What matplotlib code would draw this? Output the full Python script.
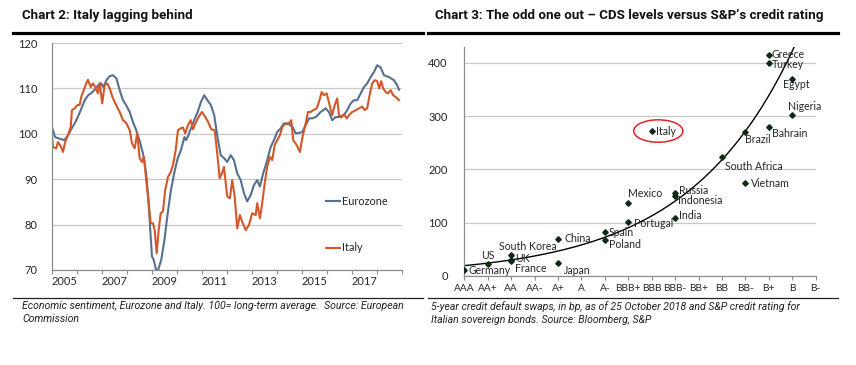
import numpy as np
import matplotlib
matplotlib.use('Agg')
import matplotlib.pyplot as plt
from matplotlib.patches import Ellipse
from matplotlib.lines import Line2D

# ---- Chart 2 data: economic sentiment ----
eur_t = [2005.00, 2005.13, 2005.27, 2005.40, 2005.50, 2005.66, 2005.80, 2005.93, 2006.06, 2006.19,
         2006.33, 2006.46, 2006.59, 2006.72, 2006.86, 2006.96, 2007.06, 2007.19, 2007.32, 2007.45,
         2007.59, 2007.72, 2007.85, 2007.98, 2008.12, 2008.25, 2008.38, 2008.51, 2008.65, 2008.78,
         2008.87, 2008.95, 2009.01, 2009.08, 2009.18, 2009.24, 2009.38, 2009.51, 2009.64, 2009.77,
         2009.91, 2010.04, 2010.17, 2010.31, 2010.37, 2010.44, 2010.57, 2010.70, 2010.84, 2010.97,
         2011.10, 2011.23, 2011.37, 2011.50, 2011.63, 2011.76, 2011.90, 2012.02, 2012.16, 2012.29,
         2012.42, 2012.56, 2012.69, 2012.82, 2012.96, 2013.09, 2013.22, 2013.33, 2013.46, 2013.60,
         2013.76, 2013.89, 2014.02, 2014.16, 2014.29, 2014.49, 2014.62, 2014.76, 2014.89, 2015.02,
         2015.16, 2015.29, 2015.42, 2015.56, 2015.76, 2015.96, 2016.09, 2016.22, 2016.36, 2016.49,
         2016.69, 2016.82, 2016.96, 2017.09, 2017.22, 2017.36, 2017.49, 2017.62, 2017.76, 2017.89,
         2018.02, 2018.16, 2018.29, 2018.49, 2018.69, 2018.82, 2018.89]
eur_v = [101.7, 99.3, 99.0, 98.8, 98.6, 99.7, 101.2, 102.4, 103.9, 105.6,
         107.5, 108.5, 109.0, 109.7, 110.7, 111.2, 110.3, 111.8, 112.7, 112.9,
         112.2, 109.6, 107.4, 106.3, 104.8, 102.6, 100.8, 98.6, 95.7, 91.3,
         85.4, 78.1, 73.0, 72.2, 70.0, 69.7, 72.2, 76.6, 82.5, 87.6,
         91.6, 94.6, 96.4, 99.3, 98.6, 99.3, 101.2, 103.0, 104.8, 107.0,
         108.5, 107.4, 106.3, 104.1, 99.3, 95.3, 94.6, 93.8, 95.3, 94.2,
         91.3, 89.8, 86.9, 85.1, 86.5, 88.7, 89.8, 88.4, 91.3, 93.8,
         97.1, 98.6, 100.4, 101.2, 102.3, 102.1, 101.6, 100.1, 100.2, 100.4,
         101.9, 103.4, 103.4, 103.7, 104.8, 105.6, 104.8, 103.0, 103.7, 103.7,
         104.1, 105.2, 106.7, 107.4, 107.4, 108.9, 110.3, 111.1, 112.5, 113.6,
         115.1, 114.6, 112.9, 112.5, 111.8, 110.7, 109.7]

ita_t = [2005.00, 2005.05, 2005.18, 2005.25, 2005.36, 2005.45, 2005.54, 2005.65, 2005.76, 2005.81,
         2005.92, 2006.02, 2006.12, 2006.18, 2006.29, 2006.38, 2006.45, 2006.56, 2006.65, 2006.74,
         2006.85, 2006.92, 2007.02, 2007.12, 2007.22, 2007.32, 2007.45, 2007.58, 2007.72, 2007.85,
         2007.98, 2008.12, 2008.21, 2008.32, 2008.42, 2008.52, 2008.61, 2008.69, 2008.78, 2008.88,
         2008.96, 2009.05, 2009.12, 2009.20, 2009.28, 2009.36, 2009.45, 2009.54, 2009.65, 2009.76,
         2009.85, 2009.96, 2010.05, 2010.16, 2010.25, 2010.34, 2010.45, 2010.56, 2010.65, 2010.78,
         2010.92, 2011.01, 2011.12, 2011.25, 2011.38, 2011.52, 2011.62, 2011.72, 2011.81, 2011.89,
         2012.02, 2012.13, 2012.22, 2012.32, 2012.42, 2012.53, 2012.62, 2012.76, 2012.89, 2013.02,
         2013.16, 2013.22, 2013.33, 2013.42, 2013.52, 2013.62, 2013.73, 2013.82, 2013.92, 2014.02,
         2014.13, 2014.22, 2014.36, 2014.49, 2014.58, 2014.66, 2014.80, 2014.93, 2015.02, 2015.16,
         2015.25, 2015.36, 2015.46, 2015.60, 2015.69, 2015.80, 2015.89, 2016.00, 2016.13, 2016.22,
         2016.32, 2016.42, 2016.49, 2016.58, 2016.69, 2016.80, 2016.89, 2017.02, 2017.16, 2017.29,
         2017.42, 2017.52, 2017.62, 2017.73, 2017.82, 2017.92, 2018.02, 2018.10, 2018.18, 2018.26,
         2018.36, 2018.45, 2018.56, 2018.66, 2018.76, 2018.89]
ita_v = [100.4, 97.1, 96.8, 98.2, 97.3, 96.0, 98.2, 99.7, 101.5, 105.2,
         105.6, 106.3, 106.4, 108.1, 109.7, 111.1, 111.9, 110.3, 111.1, 110.3,
         108.9, 111.1, 106.7, 110.7, 111.1, 110.0, 107.8, 106.3, 104.8, 103.0,
         102.4, 100.8, 97.9, 96.8, 100.1, 94.6, 93.8, 94.9, 89.8, 84.7,
         80.3, 80.3, 78.8, 73.7, 78.8, 82.5, 82.9, 87.6, 90.5, 91.6,
         93.1, 96.4, 100.8, 101.2, 101.4, 100.1, 101.9, 103.0, 101.0, 102.7,
         104.1, 104.8, 103.9, 102.7, 101.0, 100.8, 95.7, 90.2, 91.3, 92.7,
         86.2, 85.8, 89.8, 86.2, 79.2, 82.1, 80.6, 78.8, 79.9, 82.5,
         82.1, 84.7, 81.4, 84.7, 89.1, 92.7, 94.9, 94.2, 97.5, 98.6,
         99.7, 101.5, 102.3, 102.3, 103.0, 98.6, 97.5, 96.0, 99.0, 102.3,
         104.8, 104.8, 105.2, 105.6, 107.0, 109.2, 108.5, 108.9, 106.0, 104.1,
         106.3, 107.8, 104.1, 103.6, 104.3, 103.4, 104.1, 104.8, 105.2, 105.6,
         106.0, 105.2, 105.6, 108.9, 111.1, 111.8, 111.6, 110.0, 111.6, 110.0,
         109.2, 108.9, 109.6, 108.5, 108.1, 107.4]

# ---- Chart 3 data: CDS level (bp) vs S&P rating ----
ratings = ['AAA', 'AA+', 'AA', 'AA-', 'A+', 'A', 'A-', 'BBB+', 'BBB', 'BBB-',
           'BB+', 'BB', 'BB-', 'B+', 'B', 'B-']
countries = ['Germany', 'US', 'South Korea', 'UK', 'France', 'China', 'Japan', 'Spain', 'Poland',
             'Mexico', 'Portugal', 'Italy', 'Russia', 'Indonesia', 'India', 'South Africa',
             'Vietnam', 'Brazil', 'Greece', 'Turkey', 'Bahrain', 'Egypt', 'Nigeria']
country_rating = ['AAA', 'AA+', 'AA', 'AA', 'AA', 'A+', 'A+', 'A-', 'A-',
                  'BBB+', 'BBB+', 'BBB', 'BBB-', 'BBB-', 'BBB-', 'BB',
                  'BB-', 'BB-', 'B+', 'B+', 'B+', 'B', 'B']
cds = [12, 22, 40, 30, 28, 70, 24, 82, 67,
       137, 101, 272, 155, 150, 108, 224,
       174, 271, 415, 400, 280, 369, 302]

# label offsets in points (dx, dy) and alignment
label_pos = {
    'Germany': (3, -1, 'left', 'center'), 'US': (0, 2, 'center', 'bottom'),
    'South Korea': (12, 2, 'center', 'bottom'), 'UK': (3, 1, 'left', 'center'),
    'France': (3, -5, 'left', 'center'), 'China': (5, 0, 'left', 'center'),
    'Japan': (4, -5, 'left', 'center'), 'Spain': (3, 0, 'left', 'center'),
    'Poland': (3, -3, 'left', 'center'), 'Mexico': (0, 3, 'left', 'bottom'),
    'Portugal': (4, -1, 'left', 'center'), 'Italy': (3, 0, 'left', 'center'),
    'Russia': (3, 2, 'left', 'center'), 'Indonesia': (2, -3.5, 'left', 'center'),
    'India': (3, 2, 'left', 'center'), 'South Africa': (2, -7, 'left', 'center'),
    'Vietnam': (4, 0, 'left', 'center'), 'Brazil': (0, -6, 'left', 'center'),
    'Greece': (2, 0, 'left', 'center'), 'Turkey': (2, -1, 'left', 'center'),
    'Bahrain': (2, -5, 'left', 'center'), 'Egypt': (-7, -4, 'left', 'center'),
    'Nigeria': (-3, 2, 'left', 'bottom'),
}

TXT = '#262626'
GRID = '#c8c8c8'
SPINE = '#8c8c8c'
tick_font = 'Lato'

fig = plt.figure(figsize=(8.56, 3.65), dpi=100)

# titles and rules
fig.text(22 / 856, 1 - 15 / 365, 'Chart 2: Italy lagging behind', fontsize=9.6,
         fontweight='bold', family='Roboto', va='center', ha='left', color='#111111')
fig.text(435 / 856, 1 - 15 / 365, 'Chart 3: The odd one out \u2013 CDS levels versus S&P\u2019s credit rating',
         fontsize=9.6, fontweight='bold', family='Roboto', va='center', ha='left', color='#111111')
fig.add_artist(Line2D([13 / 856, 423 / 856], [1 - 32.5 / 365] * 2, color='black', lw=2.3))
fig.add_artist(Line2D([428 / 856, 838 / 856], [1 - 32.5 / 365] * 2, color='black', lw=2.3))
fig.add_artist(Line2D([13 / 856, 423 / 856], [1 - 297.5 / 365] * 2, color='#222222', lw=0.9))
fig.add_artist(Line2D([428 / 856, 838 / 856], [1 - 297.5 / 365] * 2, color='#222222', lw=0.9))

cap_font = 'Roboto'
fig.text(22 / 856, 1 - 301 / 365,
         'Economic sentiment, Eurozone and Italy. 100= long-term average.  Source: European\nCommission',
         fontsize=7.6, style='italic', family=cap_font, va='top', ha='left', color='#222222',
         linespacing=1.4)
fig.text(431 / 856, 1 - 301 / 365,
         '5-year credit default swaps, in bp, as of 25 October 2018 and S&P credit rating for\n'
         'Italian sovereign bonds. Source: Bloomberg, S&P',
         fontsize=7.6, style='italic', family=cap_font, va='top', ha='left', color='#222222',
         linespacing=1.4)

# ---- left chart ----
ax1 = fig.add_axes([51.7 / 856, 1 - 270 / 365, 350 / 856, 227 / 365])
ax1.plot(eur_t, eur_v, color='#56708f', lw=1.5, label='Eurozone', solid_joinstyle='round')
ax1.plot(ita_t, ita_v, color='#d2582a', lw=1.5, label='Italy', solid_joinstyle='round')
ax1.set_xlim(2005, 2019)
ax1.set_ylim(70, 120)
ax1.set_yticks(range(70, 121, 10))
ax1.yaxis.grid(True, color=GRID, lw=0.9)
ax1.set_axisbelow(True)
ax1.set_xticks(range(2005, 2020))
ax1.set_xticklabels([])
ax1.set_xticks([y + 0.5 for y in range(2005, 2019, 2)], minor=True)
ax1.set_xticklabels([str(y) for y in range(2005, 2019, 2)], minor=True)
ax1.tick_params(axis='x', which='major', length=3, color=SPINE, direction='out')
ax1.tick_params(axis='x', which='minor', length=0, pad=4, labelsize=8, labelcolor=TXT)
ax1.tick_params(axis='y', length=0, pad=10, labelsize=8, labelcolor=TXT)
for lab in ax1.get_xticklabels(minor=True) + ax1.get_yticklabels():
    lab.set_family(tick_font)
for s in ['top', 'right']:
    ax1.spines[s].set_visible(False)
for s in ['left', 'bottom']:
    ax1.spines[s].set_color(SPINE)
    ax1.spines[s].set_linewidth(0.9)
leg = ax1.legend(loc='center left', bbox_to_anchor=(0.783, 0.2), frameon=False,
                 handlelength=1.35, handletextpad=0.15, labelspacing=3.3,
                 borderpad=0, borderaxespad=0, prop={'family': tick_font, 'size': 7.8})
for t in leg.get_texts():
    t.set_color(TXT)

# ---- right chart ----
ax2 = fig.add_axes([464.3 / 856, 1 - 276 / 365, 351.4 / 856, 229.2 / 365])
xs = np.array([ratings.index(r) for r in country_rating], dtype=float)
ys = np.array(cds, dtype=float)
ax2.plot(xs, ys, 'D', color='#0f2a14', markersize=2.8, zorder=3)

# exponential trend line fitted like Excel
b, lna = np.polyfit(xs, np.log(ys), 1)
xx = np.linspace(0, 14.3, 300)
ax2.plot(xx, np.exp(lna + b * xx), color='black', lw=1.0, zorder=2)

for name, x, y in zip(countries, xs, ys):
    dx, dy, ha, va = label_pos[name]
    ax2.annotate(name, (x, y), xytext=(dx, dy), textcoords='offset points',
                 ha=ha, va=va, fontsize=7.6, family=tick_font, color=TXT, zorder=4)

it = countries.index('Italy')
ax2.add_patch(Ellipse((xs[it] + 0.28, ys[it]), width=2.1, height=42, fill=False,
                      edgecolor='#e0242a', lw=1.1, zorder=5))

ax2.set_xlim(0, 15)
ax2.set_ylim(0, 430)
ax2.set_yticks(range(0, 401, 100))
ax2.yaxis.grid(True, color=GRID, lw=0.9)
ax2.set_axisbelow(True)
ax2.set_xticks(range(len(ratings)))
ax2.set_xticklabels(ratings)
ax2.tick_params(axis='x', length=3, color=SPINE, pad=3, labelsize=7.3, labelcolor=TXT)
ax2.tick_params(axis='y', length=0, pad=12, labelsize=8, labelcolor=TXT)
for lab in ax2.get_xticklabels() + ax2.get_yticklabels():
    lab.set_family(tick_font)
for s in ['top', 'right']:
    ax2.spines[s].set_visible(False)
for s in ['left', 'bottom']:
    ax2.spines[s].set_color(SPINE)
    ax2.spines[s].set_linewidth(0.9)

fig.savefig('out.png', dpi=100)
